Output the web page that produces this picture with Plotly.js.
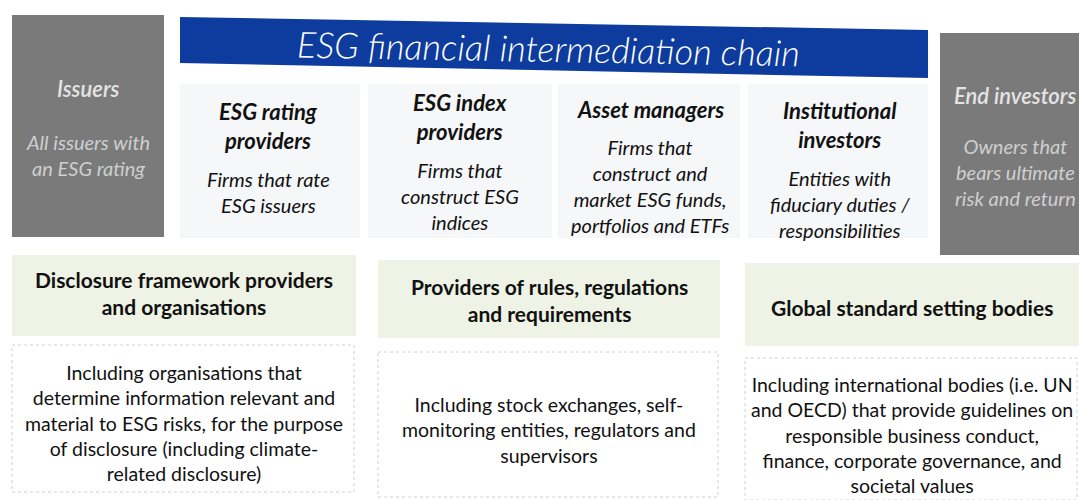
<!DOCTYPE html>
<html><head><meta charset="utf-8">
<script src="https://cdn.plot.ly/plotly-3.0.1.min.js"></script>
<style>html,body{margin:0;padding:0;background:#fff}</style>
</head><body><div id="chart" style="width:1079px;height:500px"></div>
<script>
// ---- content ----
var bannerTitle = "ESG financial intermediation chain";
var endpointNames = ["Issuers", "End investors"];
var endpointDescs = ["All issuers with<br>an ESG rating", "Owners that<br>bears ultimate<br>risk and return"];
var chainNames = ["ESG rating<br>providers", "ESG index<br>providers", "Asset managers", "Institutional<br>investors"];
var chainDescs = ["Firms that rate<br>ESG issuers", "Firms that<br>construct ESG<br>indices", "Firms that<br>construct and<br>market ESG funds,<br>portfolios and ETFs", "Entities with<br>fiduciary duties /<br>responsibilities"];
var supportNames = ["Disclosure framework providers<br>and organisations", "Providers of rules, regulations<br>and requirements", "Global standard setting bodies"];
var supportDescs = ["Including organisations that<br>determine information relevant and<br>material to ESG risks, for the purpose<br>of disclosure (including climate-<br>related disclosure)", "Including stock exchanges, self-<br>monitoring entities, regulators and<br>supervisors", "Including international bodies (i.e. UN<br>and OECD) that provide guidelines on<br>responsible business conduct,<br>finance, corporate governance, and<br>societal values"];

// ---- layout geometry (pixel-like axis units) ----
var geo = {
  endpoints: [{x0:12,x1:164,y0:15,y1:237,cx:88,ty:88,dy:155}, {x0:940,x1:1079,y0:33,y1:255,cx:1015,ty:95,dy:172}],
  banner: {x0:180,x1:928,yl0:17,yl1:63,yr0:30,yr1:78},
  chain: [{x0:180,x1:360,cx:268,ty:126,dy:192},{x0:368,x1:552,cx:460,ty:117,dy:196},{x0:558,x1:740,cx:650,ty:109,dy:186},{x0:748,x1:928,cx:840,ty:125,dy:204}],
  chainY: [84,238],
  support: [{x0:12,x1:356,y0:255,y1:336,ty:293,b0:345,b1:492,dy:423},{x0:378,x1:720,y0:260,y1:338,ty:300,b0:352,b1:497,dy:430},{x0:745,x1:1079,y0:263,y1:346,ty:307,b0:358,b1:500,dy:435}]
};

var FONT = "Lato, 'Open Sans', sans-serif";
var shapes = [], ann = [];

// banner (slightly skewed like the scanned original)
var b = geo.banner;
shapes.push({type:'path',xref:'x',yref:'y',path:'M'+b.x0+','+b.yl0+' L'+b.x1+','+b.yr0+' L'+b.x1+','+b.yr1+' L'+b.x0+','+b.yl1+' Z',fillcolor:'#0d3c9e',line:{width:0},layer:'below'});
ann.push({x:(b.x0+b.x1)/2-6,y:(b.yl0+b.yr1)/2,text:bannerTitle,textangle:1,showarrow:false,font:{family:FONT,size:36,color:'#ffffff',style:'italic',weight:300}});

// endpoints (grey)
endpointNames.forEach(function(n,i){
  var g = geo.endpoints[i];
  shapes.push({type:'rect',xref:'x',yref:'y',x0:g.x0,x1:g.x1,y0:g.y0,y1:g.y1,fillcolor:'#7a7a7a',line:{width:0},layer:'below'});
  ann.push({x:g.cx,y:g.ty,text:n,showarrow:false,font:{family:FONT,size:22,color:'#e4e4e4',style:'italic',weight:600}});
  ann.push({x:g.cx,y:g.dy,text:endpointDescs[i],showarrow:false,font:{family:FONT,size:20,color:'#cfcfcf',style:'italic'}});
});

// chain columns
chainNames.forEach(function(n,i){
  var g = geo.chain[i];
  shapes.push({type:'rect',xref:'x',yref:'y',x0:g.x0,x1:g.x1,y0:geo.chainY[0],y1:geo.chainY[1],fillcolor:'#f6f7f9',line:{width:0},layer:'below'});
  ann.push({x:g.cx,y:g.ty,text:n,showarrow:false,font:{family:FONT,size:22,color:'#111111',style:'italic',weight:700}});
  ann.push({x:g.cx,y:g.dy,text:chainDescs[i],showarrow:false,font:{family:FONT,size:20,color:'#111111',style:'italic'}});
});

// support bodies
supportNames.forEach(function(n,i){
  var g = geo.support[i];
  shapes.push({type:'rect',xref:'x',yref:'y',x0:g.x0,x1:g.x1,y0:g.y0,y1:g.y1,fillcolor:'#eef3e5',line:{width:0},layer:'below'});
  shapes.push({type:'rect',xref:'x',yref:'y',x0:g.x0,x1:g.x1-2,y0:g.b0,y1:g.b1,fillcolor:'rgba(0,0,0,0)',line:{width:1,color:'#d0d0d0',dash:'dot'},layer:'below'});
  ann.push({x:(g.x0+g.x1)/2,y:g.ty,text:n,showarrow:false,font:{family:FONT,size:21,color:'#111111',weight:700}});
  ann.push({x:(g.x0+g.x1)/2,y:g.dy,text:supportDescs[i],showarrow:false,font:{family:FONT,size:19.5,color:'#111111'}});
});

var layout = {
  width:1079,height:500,margin:{l:0,r:0,t:0,b:0},
  paper_bgcolor:'#ffffff',plot_bgcolor:'#ffffff',
  xaxis:{range:[0,1079],visible:false,fixedrange:true},
  yaxis:{range:[500,0],visible:false,fixedrange:true},
  shapes:shapes,annotations:ann,showlegend:false
};
Plotly.newPlot('chart',[{x:[],y:[],type:'scatter',mode:'markers',hoverinfo:'skip'}],layout,{displayModeBar:false,staticPlot:true});
</script></body></html>
